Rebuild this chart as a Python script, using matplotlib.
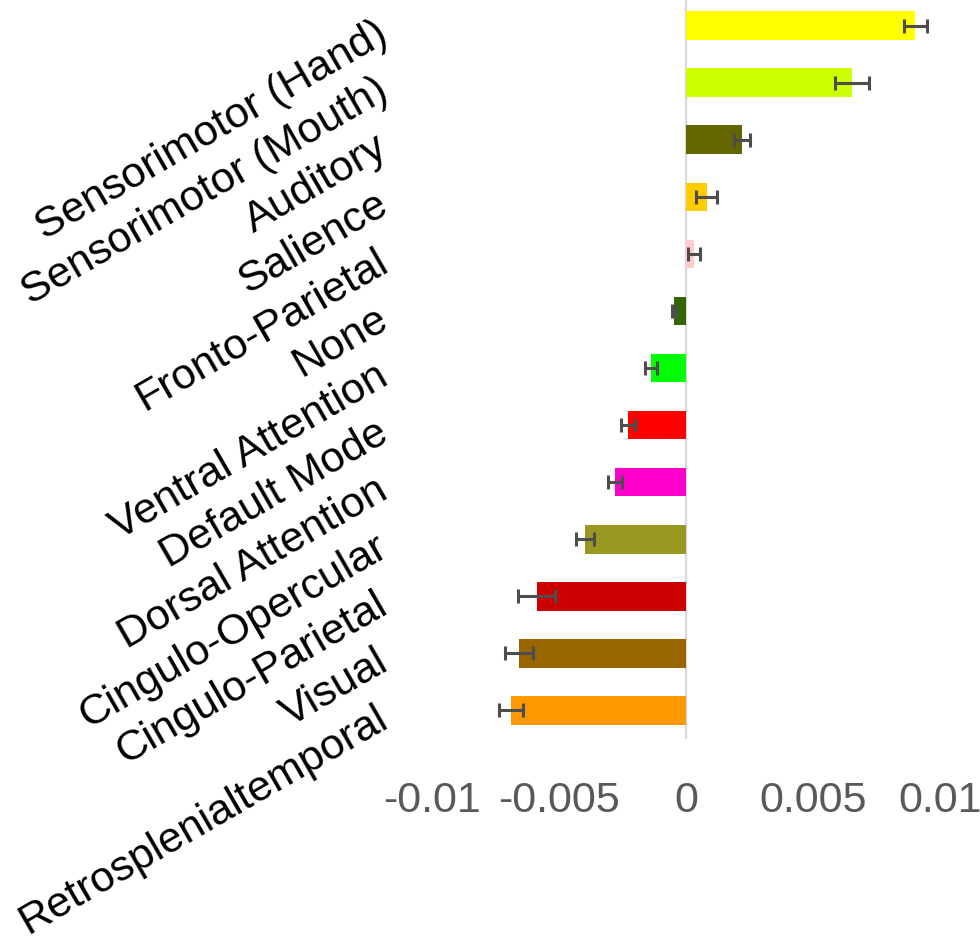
import matplotlib
matplotlib.use("Agg")
import matplotlib.pyplot as plt
import matplotlib.transforms as mtransforms
import numpy as np

# network means, top to bottom
networks = [
    "Sensorimotor (Hand)", "Sensorimotor (Mouth)", "Auditory", "Salience",
    "Fronto-Parietal", "None", "Ventral Attention", "Default Mode",
    "Dorsal Attention", "Cingulo-Opercular", "Cingulo-Parietal", "Visual",
    "Retrosplenialtemporal",
]
means = [0.00902, 0.00652, 0.00220, 0.00081, 0.00030, -0.00047, -0.00138,
         -0.00228, -0.00280, -0.00398, -0.00587, -0.00657, -0.00689]
errors = [0.00045, 0.00067, 0.00031, 0.00043, 0.00024, 0.00008, 0.00025,
          0.00026, 0.00028, 0.00035, 0.00073, 0.00054, 0.00047]
colors = ["#ffff00", "#ccff00", "#666600", "#ffcc00", "#ffcccc", "#336600",
          "#00ff00", "#ff0000", "#ff00cc", "#999922", "#cc0000", "#996600",
          "#ff9900"]
xticks = [-0.01, -0.005, 0, 0.005, 0.01]
xtick_labels = ["-0.01", "-0.005", "0", "0.005", "0.01"]

plt.rcParams["font.family"] = ["Liberation Sans", "DejaVu Sans"]

fig = plt.figure(figsize=(9.8, 9.41), dpi=100)
W, H = 980, 941
ax = fig.add_axes([432 / W, 1 - 739 / H, 508 / W, 742 / H])

y = np.arange(len(networks))
ax.barh(y, means, height=0.5, color=colors, zorder=2)
ax.errorbar(means, y, xerr=errors, fmt="none", ecolor="#4d4d4d",
            elinewidth=2.2, capsize=5, capthick=2.2, zorder=3)

ax.axvline(0, color="#d9d9d9", lw=1.6, zorder=1)

ax.set_xlim(-0.01, 0.01)
ax.set_ylim(len(networks) - 0.5, -0.5)

ax.set_xticks(xticks)
ax.set_xticklabels(xtick_labels, fontsize=31, color="#595959")
ax.set_yticks(y)
ax.set_yticklabels(networks, fontsize=31, rotation=30, ha="right",
                   va="center", rotation_mode="anchor")
ax.tick_params(axis="x", length=0, pad=30)
ax.tick_params(axis="y", length=0, pad=34)

# nudge the slanted category names a little lower
shift = mtransforms.ScaledTranslation(0, -4 / 72, fig.dpi_scale_trans)
for lbl in ax.get_yticklabels():
    lbl.set_transform(lbl.get_transform() + shift)

for side in ["top", "right", "bottom", "left"]:
    ax.spines[side].set_visible(False)

fig.savefig("out.png", dpi=100, facecolor="white")
